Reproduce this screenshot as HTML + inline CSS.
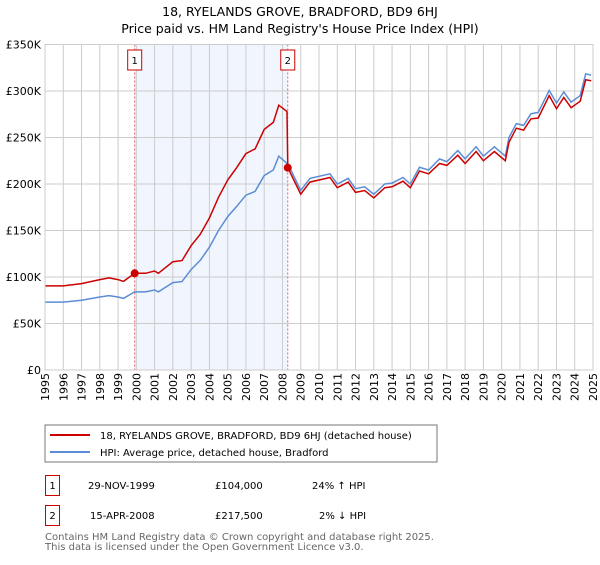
<!DOCTYPE html>
<html><head><meta charset="utf-8"><style>
body{margin:0;background:#fff;font-family:"Liberation Sans","DejaVu Sans",sans-serif;}
svg text{font-family:"DejaVu Sans","Liberation Sans",sans-serif;}
</style></head><body>
<svg id="chart" width="600" height="560" xmlns="http://www.w3.org/2000/svg">
<text x="300" y="16" text-anchor="middle" font-size="12.5" fill="#000">18, RYELANDS GROVE, BRADFORD, BD9 6HJ</text>
<text x="300" y="33" text-anchor="middle" font-size="12.5" fill="#000">Price paid vs. HM Land Registry's House Price Index (HPI)</text>
<g id="plot"></g>
<rect x="45" y="425" width="392" height="37" fill="#fff" stroke="#777"/>
<line x1="50" y1="435" x2="90" y2="435" stroke="#cc0000" stroke-width="2"/>
<text x="100" y="439" font-size="10">18, RYELANDS GROVE, BRADFORD, BD9 6HJ (detached house)</text>
<line x1="50" y1="452" x2="90" y2="452" stroke="#5b8dd6" stroke-width="2"/>
<text x="100" y="456" font-size="10">HPI: Average price, detached house, Bradford</text>
<g>
<rect x="45.5" y="475.5" width="14" height="20" fill="#fff" stroke="#cc0000"/>
<text x="52.5" y="489" text-anchor="middle" font-size="10">1</text>
<text x="88" y="489" font-size="10">29-NOV-1999</text>
<text x="215" y="489" font-size="10">£104,000</text>
<text x="312" y="489" font-size="10">24% ↑ HPI</text>
</g>
<g>
<rect x="45.5" y="505.5" width="14" height="20" fill="#fff" stroke="#cc0000"/>
<text x="52.5" y="519" text-anchor="middle" font-size="10">2</text>
<text x="90" y="519" font-size="10">15-APR-2008</text>
<text x="215" y="519" font-size="10">£217,500</text>
<text x="319" y="519" font-size="10">2% ↓ HPI</text>
</g>
<text x="45" y="540" font-size="10" fill="#666">Contains HM Land Registry data © Crown copyright and database right 2025.</text>
<text x="45" y="550" font-size="10" fill="#666">This data is licensed under the Open Government Licence v3.0.</text>
</svg>
<script>
const years=[1995,1996,1997,1998,1998.5,1999,1999.3,1999.9,2000.5,2001,2001.2,2002,2002.5,2003,2003.5,2004,2004.5,2005,2005.5,2006,2006.5,2007,2007.5,2007.8,2008.25,2008.29,2009,2009.5,2010.6,2011,2011.6,2012,2012.5,2013,2013.6,2014,2014.6,2015,2015.5,2016,2016.6,2017,2017.6,2018,2018.6,2019,2019.6,2020.2,2020.4,2020.8,2021.2,2021.6,2022,2022.6,2023,2023.4,2023.8,2024.3,2024.6,2024.9];
const hpi=[73,73,75,78.5,80,78.5,77,84,84,86,84,94,95,108,118,132,150,165,176,188,192,209,215,230,222,222,193,206,211,200,206,195,197,189,200,201,207,200,218,215,227,224,236,227,240,230,240,230,250,265,263,275.5,277,300.6,287,299,288,295,318.5,317];
const prop=[90.4,90.4,92.9,97.2,99,97.2,95.3,104,104,106.5,104,116.4,117.6,133.7,146,163.4,185.7,204.3,217.9,232.7,237.7,258.7,266.2,284.7,278,217.5,189,202,207,196,202,191,193,185,196,197,203,196,214,211,222,220,231,222,235,225,235,225,245,260,258,270,271,295,281,293,282,289,312,311];
const saleYears=[1999.91,2008.29];
const salePrices=[104,217.5];
const saleLabels=["1","2"];
const yTicks=[0,50,100,150,200,250,300,350];
const yTickLabels=["£0","£50K","£100K","£150K","£200K","£250K","£300K","£350K"];
const xTicks=[1995,1996,1997,1998,1999,2000,2001,2002,2003,2004,2005,2006,2007,2008,2009,2010,2011,2012,2013,2014,2015,2016,2017,2018,2019,2020,2021,2022,2023,2024,2025];

const L=45,R=593,T=44.5,B=370;
const xs=y=>L+(y-1995)/(2025-1995)*(R-L);
const ys=v=>B-v/350*(B-T);
const NS="http://www.w3.org/2000/svg";
const g=document.getElementById('plot');
function mk(tag,attrs){const e=document.createElementNS(NS,tag);for(const k in attrs)e.setAttribute(k,attrs[k]);g.appendChild(e);return e;}

let sh=mk('rect',{x:xs(saleYears[0]),y:T,width:xs(saleYears[1])-xs(saleYears[0]),height:B-T,fill:'#eef3fc',opacity:0.8});


yTicks.forEach((v,i)=>{
 let l=mk('line',{x1:L,x2:R,y1:ys(v),y2:ys(v),stroke:'#cccccc'});
 
 
 let t=mk('text',{x:L-4,y:ys(v)+4,'text-anchor':'end','font-size':'11'});
 t.textContent=yTickLabels[i];
 
 
});
xTicks.forEach(y=>{
 let l=mk('line',{x1:xs(y),x2:xs(y),y1:T,y2:B,stroke:'#cccccc'});
 
 
 let t=mk('text',{x:0,y:0,'text-anchor':'end','font-size':'11',transform:`translate(${xs(y)+4},${B+3}) rotate(-90)`});
 t.textContent=y;
 
 
});
saleYears.forEach((y,i)=>{
 let l=mk('line',{x1:xs(y),x2:xs(y),y1:T,y2:B,stroke:'#e06060','stroke-dasharray':'2,2','stroke-width':1});
 
 
 let r=mk('rect',{x:xs(y)-7,y:50,width:14,height:20,fill:'#fff',stroke:'#cc0000'});
 
 
 let t=mk('text',{x:xs(y),y:64,'text-anchor':'middle','font-size':'10'});
 t.textContent=saleLabels[i];
 
 
});
const pts=a=>years.map((y,i)=>xs(y).toFixed(1)+','+ys(a[i]).toFixed(1)).join(' ');
let hl=mk('polyline',{points:pts(hpi),fill:'none',stroke:'#5b8dd6','stroke-width':1.5});


let pl=mk('polyline',{points:pts(prop),fill:'none',stroke:'#cc0000','stroke-width':1.5});


saleYears.forEach((y,i)=>{
 let c=mk('circle',{cx:xs(y),cy:ys(salePrices[i]),r:4,fill:'#cc0000'});
 
 
});
let ax=mk('rect',{x:L,y:T,width:R-L,height:B-T,fill:'none',stroke:'#cccccc'});


</script>
</body></html>
